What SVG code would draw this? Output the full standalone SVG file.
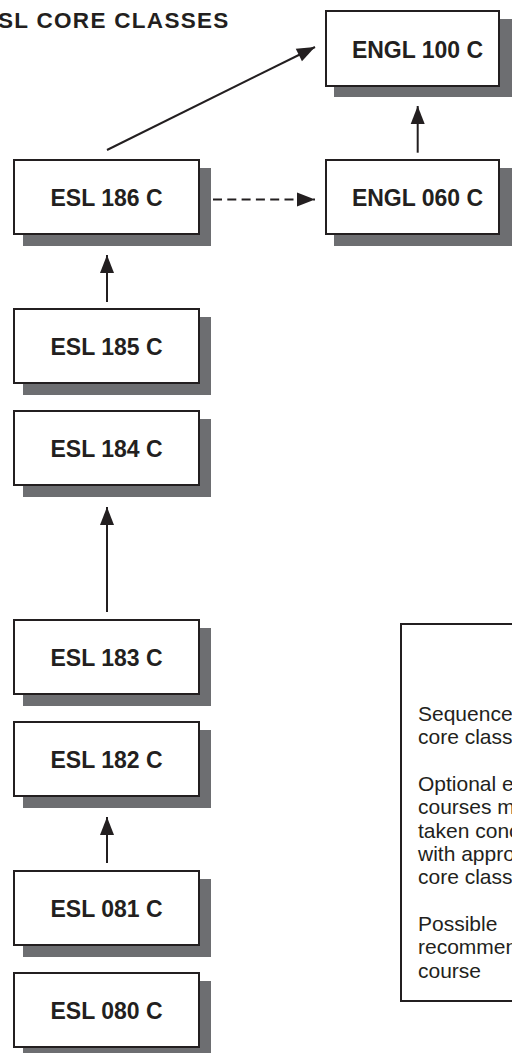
<svg xmlns="http://www.w3.org/2000/svg" width="512" height="1053" viewBox="0 0 512 1053">
<style>
.box{fill:#fff;stroke:#231f20;stroke-width:2}
.shd{fill:#6d6e71}
.lbl{font-family:"Liberation Sans",Arial,Helvetica,sans-serif;font-weight:bold;font-size:23px;fill:#231f20;text-anchor:middle}
.ttl{font-family:"Liberation Sans",Arial,Helvetica,sans-serif;font-weight:bold;font-size:22.5px;letter-spacing:1.3px;fill:#231f20}
.leg{font-family:"Liberation Sans",Arial,Helvetica,sans-serif;font-size:21px;fill:#231f20}
.con{stroke:#231f20;stroke-width:2;fill:none;marker-end:url(#ah)}
.dash{stroke-dasharray:9 5.3}
</style>
<defs>
<marker id="ah" markerUnits="userSpaceOnUse" markerWidth="18" markerHeight="14" refX="18" refY="7" orient="auto" overflow="visible">
<path d="M0,0 L18,7 L0,14 Z" fill="#231f20"/>
</marker>
</defs>
<rect width="512" height="1053" fill="#fff"/>
<text class="ttl" x="-2" y="28">SL CORE CLASSES</text>

<g id="connectors">
<line class="con" x1="107" y1="150" x2="315" y2="47"/>
<line class="con dash" x1="213" y1="199.5" x2="315" y2="199.5"/>
<line class="con" x1="417.7" y1="152.7" x2="417.7" y2="106"/>
<line class="con" x1="107" y1="302" x2="107" y2="255"/>
<line class="con" x1="107" y1="612" x2="107" y2="507"/>
<line class="con" x1="107" y1="863" x2="107" y2="817"/>
</g>

<g id="engl100">
<rect class="shd" x="334" y="19" width="190" height="78"/>
<rect class="box" x="326" y="11" width="173" height="75"/>
<text class="lbl" x="417.5" y="57.5">ENGL 100 C</text>
</g>
<g id="engl060">
<rect class="shd" x="334" y="168" width="190" height="78"/>
<rect class="box" x="326" y="160" width="173" height="74"/>
<text class="lbl" x="417.5" y="206">ENGL 060 C</text>
</g>
<g id="esl186">
<rect class="shd" x="23" y="168" width="188" height="78"/>
<rect class="box" x="14" y="160" width="185" height="74"/>
<text class="lbl" x="106.5" y="206">ESL 186 C</text>
</g>
<g id="esl185">
<rect class="shd" x="23" y="317" width="188" height="78"/>
<rect class="box" x="14" y="309" width="185" height="74"/>
<text class="lbl" x="106.5" y="355">ESL 185 C</text>
</g>
<g id="esl184">
<rect class="shd" x="23" y="419" width="188" height="78"/>
<rect class="box" x="14" y="411" width="185" height="74"/>
<text class="lbl" x="106.5" y="457">ESL 184 C</text>
</g>
<g id="esl183">
<rect class="shd" x="23" y="628" width="188" height="78"/>
<rect class="box" x="14" y="620" width="185" height="74"/>
<text class="lbl" x="106.5" y="666">ESL 183 C</text>
</g>
<g id="esl182">
<rect class="shd" x="23" y="730" width="188" height="78"/>
<rect class="box" x="14" y="722" width="185" height="74"/>
<text class="lbl" x="106.5" y="768">ESL 182 C</text>
</g>
<g id="esl081">
<rect class="shd" x="23" y="879" width="188" height="78"/>
<rect class="box" x="14" y="871" width="185" height="74"/>
<text class="lbl" x="106.5" y="917">ESL 081 C</text>
</g>
<g id="esl080">
<rect class="shd" x="23" y="981" width="188" height="78"/>
<rect class="box" x="14" y="973" width="185" height="74"/>
<text class="lbl" x="106.5" y="1019">ESL 080 C</text>
</g>

<g id="legend">
<rect x="401" y="624" width="200" height="377" fill="#fff" stroke="#231f20" stroke-width="2"/>
<text class="leg" x="418" y="721">Sequence</text>
<text class="leg" x="418" y="744.3">core class</text>
<text class="leg" x="418" y="791">Optional e</text>
<text class="leg" x="418" y="814.3">courses m</text>
<text class="leg" x="418" y="837.6">taken conc</text>
<text class="leg" x="418" y="861">with appro</text>
<text class="leg" x="418" y="884.3">core class</text>
<text class="leg" x="418" y="931">Possible</text>
<text class="leg" x="418" y="954.3">recommen</text>
<text class="leg" x="418" y="977.6">course</text>
</g>
</svg>
